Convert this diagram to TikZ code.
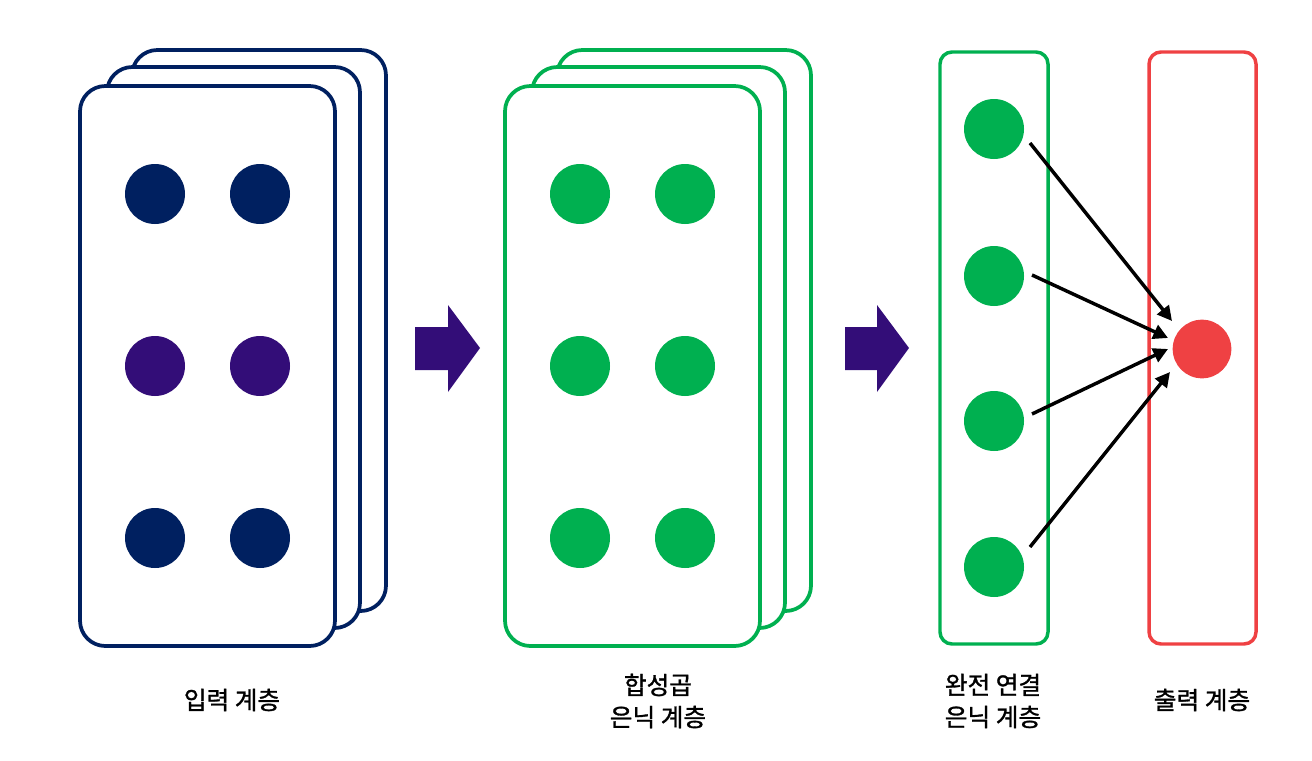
\documentclass[tikz,border=0pt]{standalone}
\usepackage{fontspec}
\newfontfamily\kr{Noto Sans CJK KR}[FakeBold=1.2]
\usetikzlibrary{arrows.meta}
\definecolor{navy}{HTML}{002060}
\definecolor{purp}{HTML}{330D78}
\definecolor{grn}{HTML}{00B050}
\definecolor{rd}{HTML}{EF4143}
\tikzset{
  card/.style={line width=2.8pt, fill=white, rounded corners=19pt},
  col/.style={line width=2.6pt, rounded corners=9pt},
  dot/.style={circle, minimum size=45pt, inner sep=0pt},
  blockarrow/.style={fill=purp},
  link/.style={line width=2.6pt, -{Triangle[length=11pt,width=11pt]}, shorten >=0pt},
  lbl/.style={font=\kr\addfontfeature{FakeBold=1.2}\fontsize{18.5}{24}\selectfont, align=center, text=black}
}
\begin{document}
\begin{tikzpicture}[x=0.75pt,y=-0.75pt]
\useasboundingbox (0,0) rectangle (1312,760);
% navy stack
\draw[card,draw=navy] (132,50) rectangle (386,611);
\draw[card,draw=navy] (107,67) rectangle (360,628);
\draw[card,draw=navy] (80,86) rectangle (335,646);
\node[dot,fill=navy] (a1) at (155,194) {};
\node[dot,fill=navy] (a2) at (260,194) {};
\node[dot,fill=purp] (a3) at (155,366) {};
\node[dot,fill=purp] (a4) at (260,366) {};
\node[dot,fill=navy] (a5) at (155,538) {};
\node[dot,fill=navy] (a6) at (260,538) {};
% arrow 1
\fill[blockarrow] (415,327) -- (448,327) -- (448,305) -- (480,348) -- (448,392) -- (448,370) -- (415,370) -- cycle;
% green stack
\draw[card,draw=grn] (557,50) rectangle (811,611);
\draw[card,draw=grn] (532,67) rectangle (785,628);
\draw[card,draw=grn] (505,86) rectangle (760,646);
\node[dot,fill=grn] (b1) at (580,194) {};
\node[dot,fill=grn] (b2) at (685,194) {};
\node[dot,fill=grn] (b3) at (580,366) {};
\node[dot,fill=grn] (b4) at (685,366) {};
\node[dot,fill=grn] (b5) at (580,538) {};
\node[dot,fill=grn] (b6) at (685,538) {};
% arrow 2
\fill[blockarrow] (845,327) -- (877,327) -- (877,305) -- (909,348) -- (877,392) -- (877,370) -- (845,370) -- cycle;
% FC column
\draw[col,draw=grn] (940,52) rectangle (1048,644);
\node[dot,fill=grn] (c1) at (994,129) {};
\node[dot,fill=grn] (c2) at (994,276) {};
\node[dot,fill=grn] (c3) at (994,421) {};
\node[dot,fill=grn] (c4) at (994,567) {};
% output column
\draw[col,draw=rd] (1149,52) rectangle (1256,644);
\node[dot,fill=rd,minimum size=44pt] (o) at (1202,349) {};
\coordinate (t1) at (1172,321);
\coordinate (t2) at (1168,338);
\coordinate (t3) at (1168,349);
\coordinate (t4) at (1170,372);
\coordinate (s1) at (1030,143);
\coordinate (s2) at (1032,275);
\coordinate (s3) at (1032,414);
\coordinate (s4) at (1030,547);
\draw[link] (s1) -- (t1);
\draw[link] (s2) -- (t2);
\draw[link] (s3) -- (t3);
\draw[link] (s4) -- (t4);
% labels
\node[lbl] (l1) at (232,700) {입력 계층};
\node[lbl] (l2) at (658,701) {합성곱\\은닉 계층};
\node[lbl] (l3) at (993,701) {완전 연결\\은닉 계층};
\node[lbl] (l4) at (1202,700) {출력 계층};
\end{tikzpicture}
\end{document}
